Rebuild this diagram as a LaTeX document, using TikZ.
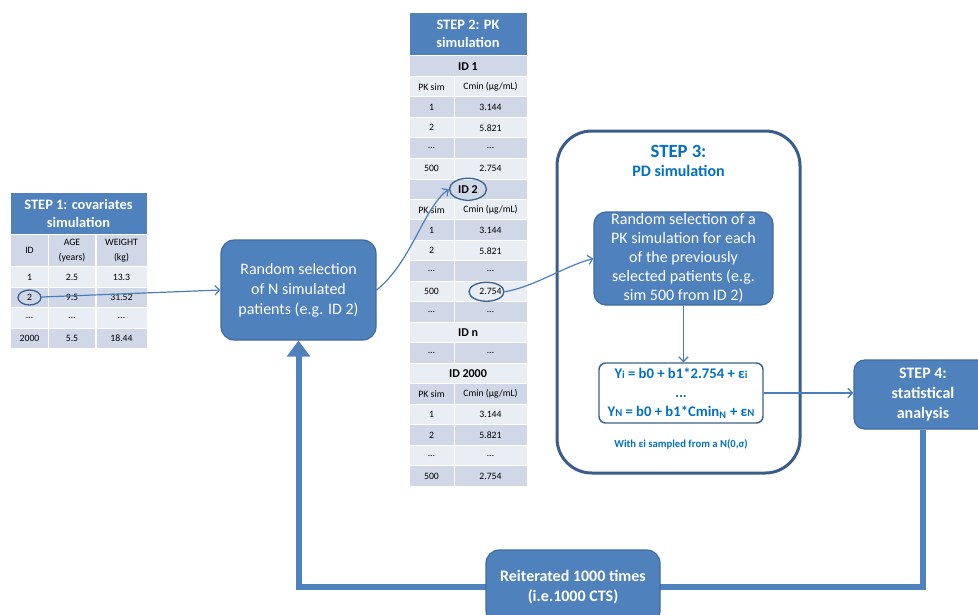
\documentclass[tikz,border=0pt]{standalone}
\usepackage{fontspec}
\setmainfont{Carlito}
\usetikzlibrary{arrows.meta,shapes.geometric}

\definecolor{hdblue}{HTML}{4F81BD}
\definecolor{rowdark}{HTML}{D0D8E8}
\definecolor{rowlight}{HTML}{E9EDF4}
\definecolor{edgeblue}{HTML}{385D8A}
\definecolor{textblue}{HTML}{0070C0}
\definecolor{linkblue}{HTML}{4A7EBB}

\newcommand\pkhead{PK sim}
\newcommand\cminhead{Cmin (µg/mL)}
\newcommand\lowsub[1]{{\fontsize{8}{8}\selectfont #1}}

\tikzset{
  hdcell/.style={rectangle, fill=hdblue, draw=white, line width=0.75pt, text=white, inner sep=0pt,
    align=center, font=\fontsize{10.8}{13.5}\selectfont\bfseries},
  cell/.style={rectangle, draw=white, line width=0.75pt, inner sep=0pt, minimum height=15.4pt,
    align=center, font=\fontsize{7.3}{11}\selectfont},
  idcell/.style={cell, font=\fontsize{9}{10}\selectfont\bfseries},
  bluebox/.style={rectangle, rounded corners=10pt, fill=hdblue, draw=edgeblue!60!hdblue, line width=0.9pt,
    text=white, align=center, inner sep=0pt},
  ring/.style={ellipse, draw=edgeblue!85!hdblue, line width=1pt, inner sep=0pt},
  link/.style={draw=linkblue, line width=0.9pt, -{Straight Barb[length=3.5pt,width=7pt]}},
  loopline/.style={draw=hdblue, line width=4.5pt, -{Triangle[width=17pt,length=12pt]}},
  bluetext/.style={text=textblue, font=\bfseries, align=center}
}

\begin{document}
\begin{tikzpicture}[x=0.75pt,y=-0.75pt]
\useasboundingbox (0,0) rectangle (978,614);

% step 1 table
\node[hdcell, minimum width=102.75pt, minimum height=31.5pt] (t1h) at (78.5,213) {STEP 1: covariates\\simulation};
\node[cell, fill=rowdark, minimum width=29.25pt, minimum height=24pt] (t1id) at (29.5,250.5) {ID};
\node[cell, fill=rowdark, minimum width=35.25pt, minimum height=24pt] (t1age) at (72,250.5) {AGE\\(years)};
\node[cell, fill=rowdark, minimum width=38.25pt, minimum height=24pt] (t1wt) at (121.5,250.5) {WEIGHT\\(kg)};
\foreach \r/\yy/\fc/\a/\b/\c in {1/277/rowlight/1/2.5/13.3, 2/297.5/rowdark/2/9.5/31.52,
    3/318/rowlight/\dots/\dots/\dots, 4/338.5/rowdark/2000/5.5/18.44}{
  \node[cell, fill=\fc, minimum width=29.25pt] (t1a\r) at (29.5,\yy) {\a};
  \node[cell, fill=\fc, minimum width=35.25pt] (t1b\r) at (72,\yy) {\b};
  \node[cell, fill=\fc, minimum width=38.25pt] (t1c\r) at (121.5,\yy) {\c};
}

% step 2 table
\node[hdcell, minimum width=88.5pt, minimum height=32.25pt] (t2h) at (468,33.5) {STEP 2: PK\\simulation};
\foreach \k/\txt/\fc in {0/ID 1/rowdark, 6/ID 2/rowdark, 13/ID n/rowlight, 15/ID 2000/rowlight}
  \node[idcell, fill=\fc, minimum width=88.5pt] (t2s\k) at (468,{66.25+20.5*\k}) {\txt};
\foreach \k/\a/\b/\fc in {1/\pkhead/\cminhead/rowlight, 2/1/3.144/rowdark, 3/2/5.821/rowlight,
    4/\dots/\dots/rowdark, 5/500/2.754/rowlight, 7/\pkhead/\cminhead/rowlight, 8/1/3.144/rowdark,
    9/2/5.821/rowlight, 10/\dots/\dots/rowdark, 11/500/2.754/rowlight, 12/\dots/\dots/rowdark,
    14/\dots/\dots/rowdark, 16/\pkhead/\cminhead/rowdark, 17/1/3.144/rowlight, 18/2/5.821/rowdark,
    19/\dots/\dots/rowlight, 20/500/2.754/rowdark}{
  \node[cell, fill=\fc, minimum width=33.75pt] (t2a\k) at (431.5,{66.25+20.5*\k}) {\a};
  \node[cell, fill=\fc, minimum width=54.75pt] (t2b\k) at (490.5,{66.25+20.5*\k}) {\b};
}

% selected entries
\node[ring, minimum width=17.25pt, minimum height=11.25pt] (ring1) at (t1a2) {};
\node[ring, minimum width=27.75pt, minimum height=16.5pt] (ring2) at (t2s6) {};
\node[ring, minimum width=26.25pt, minimum height=14.25pt] (ring3) at ([xshift=-3pt]t2b11.center) {};

% patient selection
\node[bluebox, minimum width=116.25pt, minimum height=75pt, font=\fontsize{12}{15}\selectfont] (sel) at (298.5,290)
  {Random selection\\of N simulated\\patients (e.g. ID 2)};

% step 3
\node[rectangle, draw=edgeblue, line width=2.25pt, rounded corners=26pt, minimum width=182.25pt,
  minimum height=256.5pt] (step3) at (678.5,302) {};
\node[bluetext, font=\fontsize{14}{16}\selectfont\bfseries] (s3title) at (678.5,151) {STEP 3:};
\node[bluetext, font=\fontsize{12}{14}\selectfont\bfseries] (s3sub) at (678.5,171) {PD simulation};
\node[bluebox, rounded corners=9pt, minimum width=134.25pt, minimum height=69.75pt,
  font=\fontsize{12}{14.25}\selectfont] (rndpk) at (683.5,258.5)
  {Random selection of a\\PK simulation for each\\of the previously\\selected patients (e.g.\\sim 500 from ID 2)};
\node[rectangle, rounded corners=5pt, draw=edgeblue!90!hdblue, line width=1.1pt, fill=white,
  minimum width=123pt, minimum height=45pt, text=textblue, align=center, inner sep=0pt,
  font=\fontsize{11}{14.25}\selectfont\bfseries] (eq) at (681,393)
  {Y\lowsub{i} = b0 + b1*2.754 + ε\lowsub{i}\\...\\Y\lowsub{N} = b0 + b1*Cmin\textsubscript{N} + ε\lowsub{N}};
\node[bluetext, font=\fontsize{8}{9}\selectfont\bfseries] (noise) at (681,444)
  {With ε\lowsub{i} sampled from a N(0,σ)};

% step 4 and loop
\node[bluebox, rounded corners=8pt, minimum width=103.5pt, minimum height=51.75pt,
  font=\fontsize{12}{15}\selectfont\bfseries] (step4) at (923,394.5) {STEP 4:\\statistical\\analysis};
\draw[loopline] (step4.south) |- (573,587) -| (sel.south);
\node[bluebox, minimum width=130.5pt, minimum height=55.5pt,
  font=\fontsize{12}{15}\selectfont\bfseries] (reit) at (573,587) {Reiterated 1000 times\\(i.e.1000 CTS)};

% connectors
\draw[link] (ring1) -- (sel.west);
\draw[link] (sel.east) .. controls +(35,-28) and +(-25,18) .. (ring2.west);
\draw[link] (ring3.east) .. controls +(30,-5) and +(-30,8) .. (rndpk.west);
\draw[link] (rndpk.south) -- (rndpk.south |- eq.north);
\draw[link] (eq.east) -- (eq.east -| step4.west);
\end{tikzpicture}
\end{document}
